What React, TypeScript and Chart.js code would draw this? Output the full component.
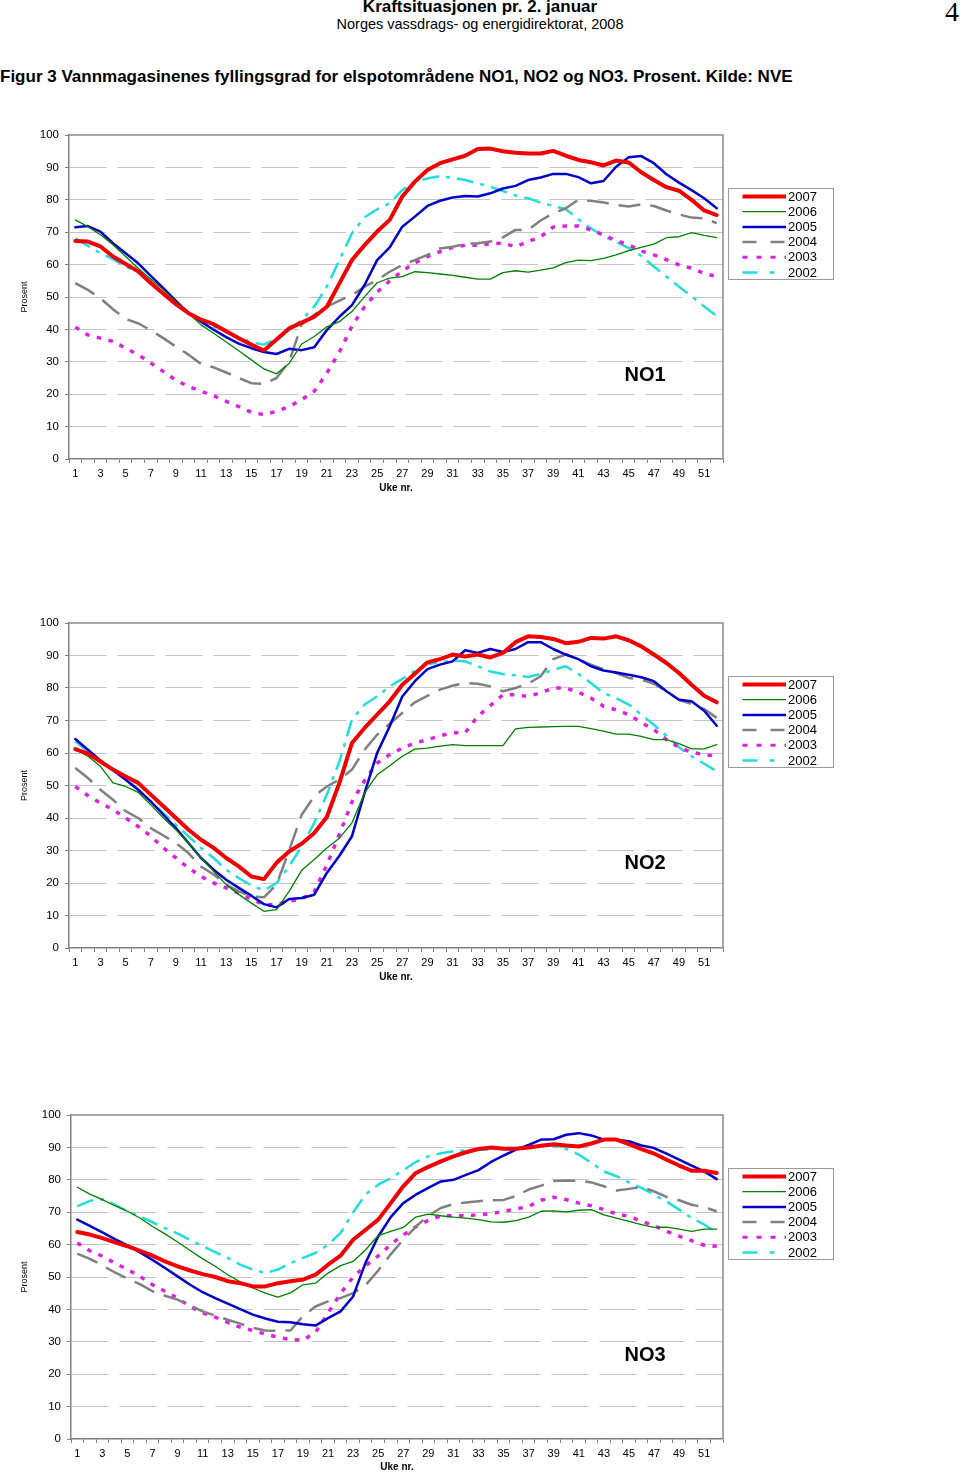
import React, { useEffect, useRef } from "react";
import { Chart, registerables } from "chart.js";

Chart.register(...registerables);

// ---------- data ----------
const weeks = [
  "1", "2", "3", "4", "5", "6", "7", "8", "9", "10", "11", "12", "13",
  "14", "15", "16", "17", "18", "19", "20", "21", "22", "23", "24", "25", "26",
  "27", "28", "29", "30", "31", "32", "33", "34", "35", "36", "37", "38", "39",
  "40", "41", "42", "43", "44", "45", "46", "47", "48", "49", "50", "51", "52",
];
const years = ["2007", "2006", "2005", "2004", "2003", "2002"];
const yTicks = [0, 10, 20, 30, 40, 50, 60, 70, 80, 90, 100];

// NO1
const no1_2007 = [67.3, 67.1, 65.6, 62.5, 60.2, 57.9, 54.3, 51, 47.8, 45, 43, 41.6, 39.4, 37.3, 35.3, 33.5, 36.9, 40.3, 42.1, 43.9, 47, 54.2, 61.4, 66, 70.2, 73.8, 81, 85.6, 89.2, 91.3, 92.5, 93.6, 95.7, 95.8, 95, 94.5, 94.3, 94.3, 95.1, 93.6, 92.3, 91.6, 90.6, 92.1, 91.5, 88.5, 86.1, 83.9, 82.8, 80, 76.7, 75.3];
const no1_2006 = [73.8, 71.7, 69.2, 66.1, 62.5, 58.9, 55.5, 52.2, 48.6, 45, 41.4, 38.8, 36.1, 33.4, 30.6, 27.8, 26.3, 29.5, 35.5, 37.8, 40.8, 42.4, 45.5, 50.1, 54.4, 55.8, 56.3, 57.8, 57.5, 57.1, 56.7, 56.1, 55.5, 55.5, 57.5, 58.1, 57.7, 58.3, 59, 60.6, 61.4, 61.2, 61.9, 63, 64.3, 65.3, 66.3, 68.3, 68.6, 69.9, 69, 68.3];
const no1_2005 = [71.5, 71.9, 70.2, 66.6, 63.5, 60.4, 56.5, 52.7, 48.8, 45, 42.4, 39.9, 37.6, 35.6, 34.2, 33, 32.4, 34, 33.6, 34.5, 39.8, 43.9, 47.5, 53.7, 61.4, 65.3, 71.7, 74.8, 78.1, 79.7, 80.7, 81.2, 81, 82, 83.5, 84.3, 86.1, 86.9, 88, 88, 87, 85.1, 85.8, 90.2, 93.1, 93.5, 91.3, 87.9, 85.3, 83, 80.5, 77.4];
const no1_2004 = [54.3, 52.2, 49.6, 46.2, 43.2, 41.9, 39.7, 37.3, 34.7, 32.2, 29.3, 28.3, 26.7, 25, 23.4, 23.2, 25, 30, 41.5, 44.5, 47, 48.9, 50.6, 53.2, 55.2, 57.8, 59.9, 61.4, 63, 65, 65.5, 66.4, 66.6, 67.1, 68.4, 70.7, 70.7, 73.6, 75.8, 77.4, 80, 79.7, 79.2, 78.4, 77.9, 78.6, 78.1, 76.7, 75.5, 74.5, 74.3, 72.8];
const no1_2003 = [40.7, 38.3, 37.3, 36.3, 34.2, 32.2, 29.6, 27, 24.3, 22.4, 20.9, 19.5, 17.8, 16.2, 14.4, 13.7, 14.7, 16.2, 18.3, 20.9, 26.5, 33, 41, 47, 51.5, 55, 58, 60.5, 62.5, 64, 65.3, 66, 66, 66.4, 66.6, 65.5, 67.1, 68.6, 71.6, 71.9, 71.9, 70.7, 69.2, 67.4, 66.1, 64.2, 63, 61.5, 59.9, 58.9, 57.3, 56.3];
const no1_2002 = [68.1, 65.8, 63.5, 61.7, 59.4, 57.6, 54.3, 51.2, 48.1, 45.5, 43, 40.9, 39.1, 37.6, 36, 35.3, 37.2, 39.8, 42.9, 47, 53.2, 61.4, 69.7, 74.6, 77.1, 78.9, 83, 85.6, 86.6, 87.3, 86.8, 86.1, 85.1, 84, 82.7, 81.3, 80.5, 79.1, 78.1, 77.1, 74, 71.2, 68.7, 67.1, 65.1, 62.7, 59.4, 56.3, 53.2, 50.2, 47.1, 44.2];

// NO2
const no2_2007 = [61.2, 59.8, 57.4, 54.9, 52.8, 50.8, 47.2, 43.6, 40, 36.4, 33.3, 30.8, 27.7, 25.1, 22, 21.2, 26.2, 29.7, 32.1, 35.4, 40.3, 50.8, 63.1, 67.7, 71.8, 75.9, 81, 84.4, 87.9, 88.9, 90.3, 89.7, 90.3, 89.4, 90.8, 94.1, 95.9, 95.7, 95.1, 93.8, 94.2, 95.4, 95.2, 95.9, 94.7, 92.8, 90.3, 87.7, 84.6, 81, 77.6, 75.6];
const no2_2006 = [61.2, 59, 55.9, 50.8, 49.7, 47.9, 44.1, 40, 36.4, 32.3, 27.7, 23.6, 19.5, 16.5, 13.8, 11.3, 11.8, 17.4, 23.9, 27.2, 30.8, 33.8, 38.5, 47.7, 53.3, 56.1, 59, 61.2, 61.5, 62.1, 62.6, 62.3, 62.3, 62.3, 62.3, 67.4, 67.9, 68, 68.1, 68.2, 68.2, 67.5, 66.7, 65.8, 65.8, 65.1, 64.1, 64.1, 62.9, 61.3, 61.3, 62.6];
const no2_2005 = [64.3, 61, 57.7, 54.7, 51.8, 48.7, 45.1, 41, 36.9, 32.3, 27.7, 24.1, 21, 18.5, 16.1, 13.5, 12.5, 15.1, 15.4, 16.4, 23.1, 28.4, 34.4, 47.7, 60, 68.2, 77.4, 82.1, 85.8, 87.2, 88.2, 91.6, 90.8, 92, 91.1, 92, 94.1, 94.1, 92, 90.3, 88.9, 86.7, 85.4, 84.8, 84.1, 83.3, 82.1, 79, 76.4, 75.9, 73, 68.4];
const no2_2004 = [55.4, 52.3, 48.7, 45.6, 42.1, 40, 36.9, 34.6, 32.3, 29.2, 25.1, 22.6, 19.5, 17.4, 15.9, 15.6, 19.5, 30, 41, 46.7, 49.7, 51.8, 54.9, 61, 65.6, 69, 72.3, 75.6, 77.6, 79.5, 80.7, 81.5, 81.3, 80.5, 79, 80, 81.3, 83.6, 88.9, 90.3, 88.9, 87.2, 85.8, 84.6, 83.1, 82.6, 81.3, 79, 76.4, 75.1, 73.5, 70.8];
const no2_2003 = [49.7, 46.9, 44.6, 42.6, 40, 37.4, 34.4, 30.8, 27.7, 24.6, 22, 20, 18.5, 16.9, 15.1, 13.3, 13.3, 14.4, 15.1, 17.4, 25.5, 35, 45, 51.5, 56.9, 59.5, 61.5, 63.1, 64.1, 65.3, 66.2, 66.2, 71.3, 74.6, 77.9, 77.9, 77.4, 78.5, 80, 80, 78.7, 76.9, 74.4, 73.3, 71.8, 69.4, 67.2, 64.1, 61.8, 60.2, 59.5, 59];
const no2_2002 = [63.6, 60.5, 57.4, 54.7, 52.3, 48.7, 45.1, 41.5, 37.9, 34.4, 30.8, 27.7, 24.1, 21.5, 19.3, 17.7, 20, 25.1, 31.3, 38.5, 47.2, 57.4, 70.3, 74.9, 77.4, 80.5, 82.8, 85.3, 87.4, 87.9, 88.4, 88.2, 86.7, 85.1, 84.3, 83.9, 83.4, 84.3, 85.6, 86.7, 84.4, 81.5, 78.5, 76.9, 74.9, 71.8, 68.7, 65.3, 61.8, 59, 56.7, 54.4];

// NO3
const no3_2007 = [63.9, 63.1, 62, 60.7, 59.5, 58.1, 56.6, 54.8, 53.3, 52, 50.9, 50, 48.7, 48.1, 47.1, 47.1, 48.1, 48.7, 49.2, 50.7, 53.8, 56.6, 61.5, 64.6, 67.7, 72.8, 78, 82.1, 84, 85.7, 87.2, 88.5, 89.5, 90, 89.6, 89.6, 90, 90.5, 91, 90.6, 90.3, 91.2, 92.4, 92.4, 91, 89.5, 88.1, 86.2, 84.4, 82.8, 82.8, 82.1];
const no3_2006 = [77.7, 75.6, 73.9, 72, 70.3, 68.2, 65.6, 63.3, 60.8, 58.2, 55.6, 53.3, 50.7, 48.5, 46.6, 45, 43.8, 45.1, 47.6, 48.1, 51.2, 53.5, 54.8, 58.4, 62.8, 64.1, 65.3, 68.5, 69.4, 68.9, 68.5, 68.2, 67.7, 67, 66.9, 67.4, 68.5, 70.3, 70.4, 70.1, 70.6, 70.8, 69.2, 68.2, 67.2, 66.2, 65.3, 65.4, 64.8, 64.1, 64.8, 64.8];
const no3_2005 = [67.7, 65.8, 63.8, 61.7, 59.8, 57.6, 55.3, 52.8, 50.2, 47.6, 45.3, 43.5, 41.8, 40.1, 38.4, 37.2, 36.2, 36, 35.4, 35, 37.3, 39.4, 44, 54.5, 62.5, 68.5, 72.8, 75.4, 77.5, 79.5, 80, 81.5, 83, 85.5, 87.5, 89.3, 90.8, 92.4, 92.5, 93.9, 94.4, 93.7, 92.4, 92.4, 91.9, 90.6, 89.8, 88.1, 86.2, 84.4, 82.6, 80.2];
const no3_2004 = [57.2, 55.6, 53.6, 51.4, 49.5, 47.8, 45.6, 44.2, 43, 41.2, 39.4, 38.1, 36.8, 35.6, 34.3, 33.5, 33.4, 33.5, 37.9, 40.9, 42.5, 43.5, 45, 47.5, 52, 57, 61.5, 65.5, 69, 71.3, 72.5, 73, 73.4, 73.7, 73.8, 75, 77, 78.2, 79.6, 79.8, 79.7, 79.2, 78, 76.7, 77.2, 77.8, 76.4, 74.7, 73.7, 72.3, 71.5, 70.3];
const no3_2003 = [60.5, 58.1, 56.4, 54.3, 52.3, 50.2, 47.6, 45.6, 43.5, 40.9, 38.9, 37.6, 36, 34.5, 33.5, 32.4, 31.4, 30.7, 30.5, 32.9, 38.9, 44.9, 50, 53.5, 56.5, 60, 63, 65.5, 67.5, 68.9, 68.9, 68.9, 69.2, 69.5, 70.3, 71, 71.8, 73.7, 74.6, 73.9, 72.8, 72, 70.8, 69.5, 68.7, 67.2, 65.8, 64.1, 62.6, 61.2, 59.8, 59.5];
const no3_2002 = [71.8, 73.5, 74, 72.3, 70.3, 68.7, 66.9, 65.1, 63.4, 61.5, 59.5, 57.7, 55.9, 53.8, 52.3, 51.2, 52.3, 54.3, 55.9, 57.4, 60, 63.6, 70, 75.5, 78.5, 80.5, 83, 85.5, 87.2, 88.2, 88.8, 89.1, 89.3, 89.3, 89.8, 89.8, 90.3, 90.8, 90.5, 89.5, 87.8, 85.2, 82.6, 81.1, 79.2, 77.5, 75.4, 73.3, 70.8, 68.2, 66.2, 63.6];

// ---------- styles ----------
type LineStyle = { color: string; width: number; dash: number[]; legendDash: number[]; legendWidth: number };
const lineStyles: LineStyle[] = [
  { color: "#F00000", width: 4, dash: [], legendDash: [], legendWidth: 4 },
  { color: "#008000", width: 1.3, dash: [], legendDash: [], legendWidth: 1.3 },
  { color: "#0000C8", width: 2.5, dash: [], legendDash: [], legendWidth: 2.5 },
  { color: "#808080", width: 2.5, dash: [22, 10], legendDash: [14, 14], legendWidth: 2.5 },
  { color: "#E020E0", width: 3.5, dash: [4.5, 7.5], legendDash: [5, 9], legendWidth: 3 },
  { color: "#22DDDD", width: 2.5, dash: [17, 7, 4, 7], legendDash: [15, 12, 5, 12], legendWidth: 2.5 },
];

const FONT = '"Liberation Sans", Arial, Helvetica, sans-serif';
const NARROW = '"Liberation Sans Narrow", "Arial Narrow", "Liberation Sans", Arial, sans-serif';

Chart.defaults.font.family = FONT;
Chart.defaults.color = "#000";

function makeDecor(label: string) {
  return {
    id: "decor",
    beforeDatasetsDraw(chart: any) {
      const { ctx, chartArea: a } = chart;
      ctx.save();
      ctx.strokeStyle = "#8c8c8c";
      ctx.lineWidth = 1.5;
      ctx.beginPath();
      ctx.moveTo(a.left, a.top);
      ctx.lineTo(a.right, a.top);
      ctx.lineTo(a.right, a.bottom);
      ctx.stroke();
      ctx.restore();
    },
    afterDraw(chart: any) {
      const { ctx, chartArea: a } = chart;
      ctx.save();
      // region label
      ctx.fillStyle = "#000";
      ctx.font = `bold 20px ${FONT}`;
      ctx.textAlign = "center";
      ctx.textBaseline = "middle";
      ctx.fillText(label, 645, a.top + 240);
      // legend box
      const bx = 728, by = a.top + 53, bw = 105, bh = 91;
      ctx.fillStyle = "#fff";
      ctx.fillRect(bx, by, bw, bh);
      ctx.strokeStyle = "#9a9a9a";
      ctx.lineWidth = 1;
      ctx.strokeRect(bx + 0.5, by + 0.5, bw, bh);
      ctx.font = `13px ${FONT}`;
      ctx.textAlign = "left";
      years.forEach((y, i) => {
        const st = lineStyles[i];
        const yy = by + 8.5 + i * 15.2;
        ctx.strokeStyle = st.color;
        ctx.lineWidth = st.legendWidth;
        ctx.setLineDash(st.legendDash);
        ctx.lineCap = "butt";
        ctx.beginPath();
        ctx.moveTo(742.5, yy);
        ctx.lineTo(786, yy);
        ctx.stroke();
        ctx.setLineDash([]);
        ctx.fillStyle = "#000";
        ctx.fillText(y, 788, yy + 0.5);
      });
      ctx.restore();
    },
  };
}

type RegionProps = {
  top: number;
  height: number;
  leftWidth: number;
  plotHeight: number;
  label: string;
  series: number[][];
};

function RegionChart({ top, height, leftWidth, plotHeight, label, series }: RegionProps) {
  const ref = useRef<HTMLCanvasElement>(null);
  useEffect(() => {
    const xHeight = Math.min(35, height - 15 - plotHeight);
    const padBottom = height - 15 - plotHeight - xHeight;
    const chart = new Chart(ref.current as HTMLCanvasElement, {
      type: "line",
      data: {
        labels: weeks,
        datasets: years.map((y, i) => ({
          label: y,
          data: series[i],
          borderColor: lineStyles[i].color,
          backgroundColor: lineStyles[i].color,
          borderWidth: lineStyles[i].width,
          borderDash: lineStyles[i].dash,
          borderCapStyle: lineStyles[i].dash.length ? "butt" : "round",
          borderJoinStyle: "round",
          pointRadius: 0,
          tension: 0,
          fill: false,
        })),
      },
      options: {
        animation: false,
        responsive: false,
        devicePixelRatio: 1,
        events: [],
        layout: { padding: { top: 15, right: 960 - 723, left: 0, bottom: padBottom } },
        plugins: { legend: { display: false }, tooltip: { enabled: false } },
        scales: {
          x: {
            type: "category",
            offset: true,
            afterFit: (s: any) => {
              s.height = xHeight;
            },
            grid: {
              offset: true,
              drawOnChartArea: false,
              drawTicks: true,
              tickLength: 4,
              tickColor: "#808080",
              color: "#808080",
            },
            border: { display: true, color: "#808080", width: 1.5 },
            ticks: {
              autoSkip: false,
              maxRotation: 0,
              minRotation: 0,
              padding: 4,
              font: { size: 11 },
              color: "#000",
              callback: (_v: any, idx: number) => (idx % 2 === 0 ? weeks[idx] : ""),
            },
            title: {
              display: true,
              text: "Uke nr.",
              font: { size: 10, weight: "bold" },
              color: "#000",
              padding: { top: 0, bottom: 0 },
            },
          },
          y: {
            type: "linear",
            min: 0,
            max: 100,
            afterFit: (s: any) => {
              s.width = leftWidth;
            },
            afterBuildTicks: (s: any) => {
              s.ticks = yTicks.map((v) => ({ value: v }));
            },
            grid: {
              color: (c: any) => (c.tick && (c.tick.value === 0 || c.tick.value === 100) ? "rgba(0,0,0,0)" : "#c4c4c4"),
              lineWidth: 1,
              drawTicks: true,
              tickLength: 4,
              tickColor: "#808080",
            },
            border: { display: true, color: "#808080", width: 1.5, dash: [37, 11] },
            ticks: {
              stepSize: 10,
              padding: 6,
              font: { size: 11.5 },
              color: "#000",
            },
            title: {
              display: true,
              text: "Prosent",
              font: { size: 9 },
              color: "#000",
              padding: { top: 19.5, bottom: 0 },
            },
          },
        },
      } as any,
      plugins: [makeDecor(label)],
    });
    return () => chart.destroy();
  }, []);
  return (
    <canvas
      ref={ref}
      width={960}
      height={height}
      style={{ position: "absolute", left: 0, top, width: 960, height }}
    />
  );
}

export default function App() {
  return (
    <div
      style={{
        position: "absolute",
        left: 0,
        top: 0,
        width: 960,
        height: 1473,
        background: "#fff",
        overflow: "hidden",
        fontFamily: FONT,
        color: "#000",
      }}
    >
      <div
        style={{
          position: "absolute",
          left: 0,
          top: -3,
          width: 960,
          textAlign: "center",
          fontFamily: NARROW,
          fontWeight: "bold",
          fontSize: 17,
          whiteSpace: "nowrap",
        }}
      >
        Kraftsituasjonen pr. 2. januar
      </div>
      <div
        style={{
          position: "absolute",
          left: 0,
          top: 16,
          width: 960,
          textAlign: "center",
          fontFamily: NARROW,
          fontSize: 14.5,
          whiteSpace: "nowrap",
        }}
      >
        Norges vassdrags- og energidirektorat, 2008
      </div>
      <div
        style={{
          position: "absolute",
          right: 1,
          top: -4,
          fontFamily: '"Liberation Serif", "Times New Roman", serif',
          fontSize: 28,
        }}
      >
        4
      </div>
      <div
        style={{
          position: "absolute",
          left: 0,
          top: 67,
          fontFamily: NARROW,
          fontWeight: "bold",
          fontSize: 17,
          whiteSpace: "nowrap",
        }}
      >
        Figur 3 Vannmagasinenes fyllingsgrad for elspotområdene NO1, NO2 og NO3. Prosent. Kilde: NVE
      </div>
      <RegionChart
        top={120}
        height={380}
        leftWidth={69}
        plotHeight={324}
        label="NO1"
        series={[no1_2007, no1_2006, no1_2005, no1_2004, no1_2003, no1_2002]}
      />
      <RegionChart
        top={608}
        height={380}
        leftWidth={69}
        plotHeight={325}
        label="NO2"
        series={[no2_2007, no2_2006, no2_2005, no2_2004, no2_2003, no2_2002]}
      />
      <RegionChart
        top={1100}
        height={373}
        leftWidth={71}
        plotHeight={324}
        label="NO3"
        series={[no3_2007, no3_2006, no3_2005, no3_2004, no3_2003, no3_2002]}
      />
    </div>
  );
}
